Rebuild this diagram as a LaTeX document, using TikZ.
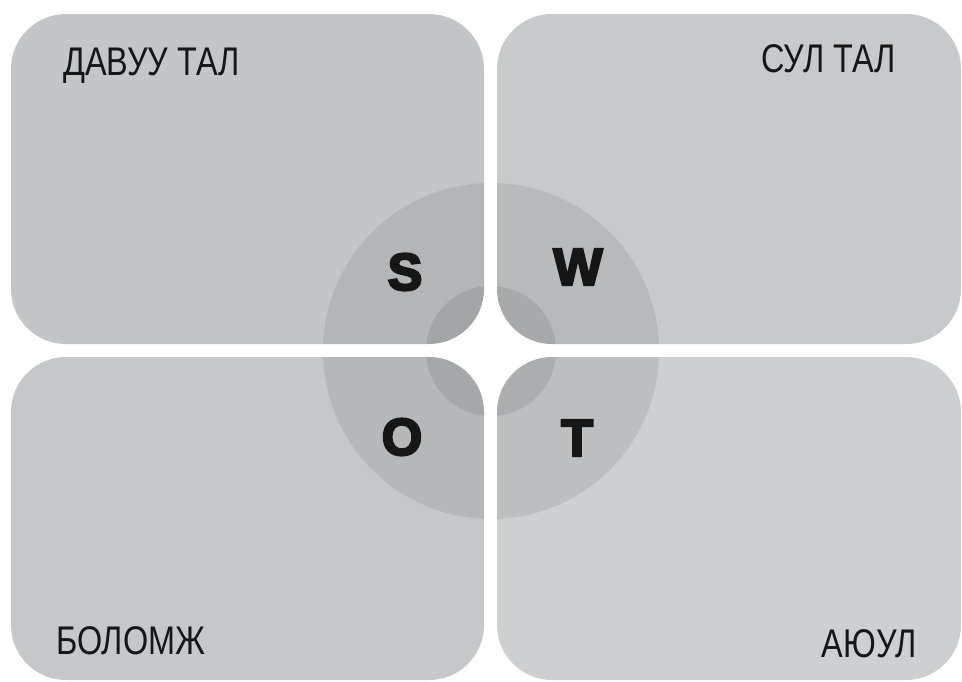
\documentclass[tikz,border=0pt]{standalone}
\usepackage{fontspec}
\setmainfont{Liberation Sans}
\newfontfamily\labelfont[FakeStretch=0.81]{Liberation Sans}
\newfontfamily\letterfont[FakeBold=4.5]{Liberation Sans Bold}
\definecolor{boxTL}{HTML}{C4C5C7}
\definecolor{boxTR}{HTML}{C8C9CB}
\definecolor{boxBL}{HTML}{C6C7C9}
\definecolor{boxBR}{HTML}{CECFD1}
\definecolor{ink}{HTML}{161616}
\tikzset{
  corner label/.style={inner sep=0pt, text=ink, font=\labelfont\fontsize{40}{40}\selectfont},
  swot letter/.style={inner sep=0pt, text=ink, font=\letterfont\fontsize{52}{52}\selectfont},
  ring/.style={fill=black, fill opacity=0.08},
  core/.style={fill=black, fill opacity=0.085},
}
\begin{document}
\begin{tikzpicture}[x=1pt, y=-1pt]
  \useasboundingbox (0,0) rectangle (962,681);
  % centre of the SWOT rings
  \coordinate (c) at (491,351);
  % four quadrant panels, each shaded by the rings clipped to its outline
  \foreach \xa/\ya/\xb/\yb/\col in {11/14/484/344/boxTL, 497/14/961/344/boxTR,
                                     11/357/484/680/boxBL, 497/357/961/680/boxBR}{
    \fill[\col, rounded corners=55pt] (\xa,\ya) rectangle (\xb,\yb);
    \begin{scope}
      \clip[rounded corners=55pt] (\xa,\ya) rectangle (\xb,\yb);
      \fill[ring] (c) circle[radius=168];
      \fill[core] (c) circle[radius=65];
    \end{scope}
  }
  % panel titles
  \node[corner label, anchor=base west] (str) at (63,75) {ДАВУУ ТАЛ};
  \node[corner label, anchor=base east] (wea) at (896,72) {СУЛ ТАЛ};
  \node[corner label, anchor=base west] (opp) at (56,654) {БОЛОМЖ};
  \node[corner label, anchor=base east] (thr) at (917,657) {АЮУЛ};
  % SWOT letters
  \node[swot letter] (S) at (405,272) {S};
  \node[swot letter] (W) at (578,267) {W};
  \node[swot letter] (O) at (402,437) {O};
  \node[swot letter] (T) at (577,438) {T};
\end{tikzpicture}
\end{document}
